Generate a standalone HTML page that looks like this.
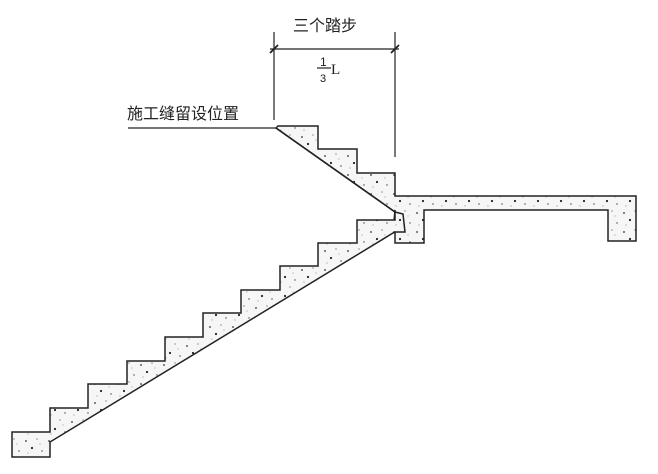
<!DOCTYPE html>
<html><head><meta charset="utf-8"><style>
html,body{margin:0;padding:0;background:#fff;width:658px;height:474px;overflow:hidden}
</style></head><body>
<svg width="658" height="474" viewBox="0 0 658 474" xmlns="http://www.w3.org/2000/svg">
<defs>
<pattern id="c" width="23" height="19" patternUnits="userSpaceOnUse">
<rect width="23" height="19" fill="#f6f6f6"/>
<circle cx="3" cy="4" r="0.9" fill="#333"/><circle cx="14" cy="2" r="0.6" fill="#555"/>
<circle cx="9" cy="11" r="1.1" fill="#222"/><circle cx="19" cy="14" r="0.7" fill="#444"/>
<circle cx="5" cy="16" r="0.5" fill="#666"/><circle cx="17" cy="7" r="0.5" fill="#777"/>
</pattern>
</defs>
<g stroke="#222" stroke-width="1.5" fill="url(#c)" stroke-linejoin="miter">
<path d="M276,128 L278,126 L318,126 L318,149 L357,149 L357,173 L395,173 L395,196 L636,196 L636,241 L608,241 L608,210 L424,210 L424,243 L395,243 L395,232 L393,233 L395,210 L395,212 Z"/>
<path d="M12,432 L50,432 L50,408 L88,408 L88,384 L127,384 L127,361 L165,361 L165,337 L203,337 L203,313 L241,313 L241,290 L280,290 L280,266 L318,266 L318,243 L357,243 L357,220 L395,220 L395,212 L403,214 L405,232 L395,232 L393,233 L50,442 L50,457 L12,457 Z"/>
</g>
<path d="M276,128 L395,212" stroke="#222" stroke-width="1.5" fill="none"/>
<g stroke="#222" stroke-width="1.2" fill="none">
<line x1="274" y1="32" x2="274" y2="120"/>
<line x1="395" y1="32" x2="395" y2="157"/>
<line x1="270" y1="49" x2="399" y2="49"/>
<line x1="270" y1="53" x2="278" y2="45" stroke-width="1.8"/>
<line x1="391" y1="53" x2="399" y2="45" stroke-width="1.8"/>
<line x1="128" y1="128" x2="276" y2="128"/>
<line x1="317" y1="68" x2="331" y2="68"/>
</g>
<g font-family="Liberation Sans, Noto Sans CJK SC, sans-serif" fill="#222">
<text x="293" y="31" font-size="16">三个踏步</text>
<text x="127" y="119" font-size="16">施工缝留设位置</text>
<text x="320" y="66" font-size="12">1</text>
<text x="320" y="82" font-size="11">3</text>
<text x="331" y="74" font-size="15" font-family="Liberation Serif, serif">L</text>
</g>
</svg>
</body></html>
